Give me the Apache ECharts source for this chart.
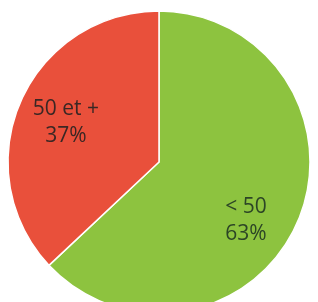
<!DOCTYPE html>
<html><head><meta charset="utf-8">
<script src="https://cdn.jsdelivr.net/npm/echarts@6/dist/echarts.min.js"></script>
<style>html,body{margin:0;padding:0;background:#fff;}#c{width:318px;height:302px;}</style>
</head><body><div id="c"></div>
<script>
const categories = ['< 50', '50 et +'];
const values = [63, 37];
const colors = ['#8DC33F', '#E9503B'];
const labelColors = ['#2c4526', '#3a2724'];
const labelShift = [[15, 27], [-21, -8]];

const chart = echarts.init(document.getElementById('c'), null, {renderer: 'canvas'});
chart.setOption({
  animation: false,
  series: [{
    type: 'pie',
    center: [159, 162],
    radius: 151,
    startAngle: 90,
    clockwise: true,
    data: categories.map((c, i) => ({
      name: c, value: values[i],
      itemStyle: {color: colors[i]},
      label: {color: labelColors[i]}
    })),
    itemStyle: {borderColor: '#fff', borderWidth: 1.5},
    label: {
      position: 'inside',
      formatter: p => p.name + '\n' + p.value + '%',
      fontFamily: 'Open Sans',
      fontSize: 21,
      lineHeight: 27,
      align: 'center'
    },
    labelLayout: p => ({dx: labelShift[p.dataIndex][0], dy: labelShift[p.dataIndex][1]}),
    emphasis: {disabled: true}
  }]
});
</script></body></html>
